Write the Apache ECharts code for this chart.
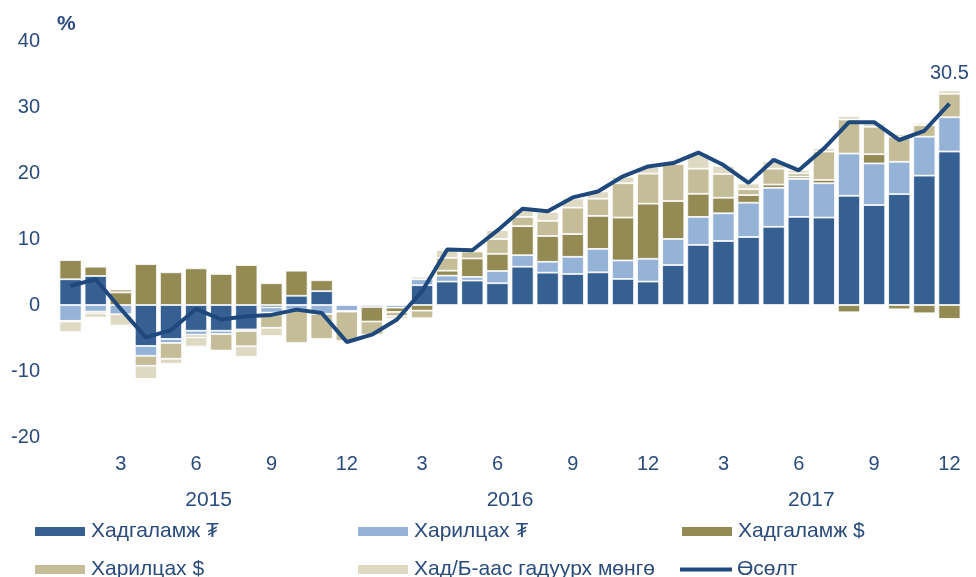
<!DOCTYPE html>
<html>
<head>
<meta charset="utf-8">
<script src="https://cdn.jsdelivr.net/npm/echarts@6/dist/echarts.min.js"></script>
<style>
html,body{margin:0;padding:0;background:#fff}
#main{width:976px;height:577px}
</style>
</head>
<body>
<div id="main"></div>
<script>
// months 2015.01 - 2017.12
const months = []
for (let y = 0; y < 3; y++) for (let m = 1; m <= 12; m++) months.push(String(m))
const years = ['2015', '2016', '2017']

const names = ['Хадгаламж ₮', 'Харилцах ₮', 'Хадгаламж $', 'Харилцах $', 'Хад/Б-аас гадуурх мөнгө', 'Өсөлт']

const hadTug = [3.9, 4.4, 0, -6.2, -5.15, -3.9, -3.9, -3.7, -0.35, 1.4, 2.1, 0.15,
  -0.3, 0, 3.0, 3.55, 3.7, 3.3, 5.8, 4.9, 4.7, 4.95, 3.95, 3.55,
  6.05, 9.1, 9.7, 10.3, 11.85, 13.35, 13.25, 16.55, 15.15, 16.8, 19.6, 23.25]
const harTug = [-2.4, -1.0, -1.4, -1.5, -0.6, -0.6, -0.5, -0.25, -0.8, -0.7, -1.35, -0.9,
  0.1, -0.4, 0.9, 0.9, 0.55, 1.85, 1.75, 1.65, 2.6, 3.55, 2.8, 3.45,
  3.95, 4.25, 4.2, 5.2, 5.9, 5.75, 5.2, 6.4, 6.3, 4.9, 5.9, 5.2]
const hadUsd = [2.9, 1.4, 1.9, 6.2, 4.95, 5.55, 4.7, 6.05, 3.3, 3.8, 1.65, -0.1,
  -2.2, -0.65, -0.85, 0.75, 2.8, 2.6, 4.4, 3.9, 3.45, 5.0, 6.5, 8.35,
  5.75, 3.5, 2.35, 1.15, 0.5, 0.35, 0.5, -1.1, 1.4, -0.65, -1.25, -2.1]
const harUsd = [-0.1, -0.25, 0.5, -1.5, -2.4, -0.4, -2.5, -2.3, -2.3, -5.05, -3.8, -4.45,
  -2.0, -0.65, -1.15, 1.95, 1.05, 2.25, 1.4, 2.3, 4.0, 2.6, 5.2, 4.55,
  5.6, 3.8, 3.6, 0.9, 2.4, 0.5, 4.3, 5.15, 4.15, 3.8, 1.75, 3.55]
const gadnaMongo = [-1.6, -0.65, -1.7, -2.0, -0.75, -1.4, 0, -1.6, -1.25, -0.15, -0.1, -0.25,
  -0.1, -0.4, 0.4, 1.15, 0.15, 1.35, 1.15, 1.35, 1.4, 1.1, 1.0, 1.0,
  0.2, 2.35, 1.2, 0.85, 1.1, 0.5, 0.5, 0.5, 0.5, 0.4, 0.35, 0.5]
const osolt = [2.9, 3.9, -0.6, -4.9, -3.8, -0.6, -2.2, -1.7, -1.5, -0.7, -1.2, -5.6,
  -4.5, -2.2, 2.1, 8.4, 8.3, 11.3, 14.6, 14.2, 16.3, 17.2, 19.5, 21.0,
  21.5, 23.1, 21.2, 18.5, 22.0, 20.4, 23.7, 27.7, 27.7, 25.0, 26.4, 30.5]

const colors = ['#366092', '#95b3d7', '#948a54', '#c4bd97', '#ddd9c3', '#1f497d']
const txt = '#2a4b7c'
const font = "'Liberation Sans', Arial, sans-serif"

const myChart = echarts.init(document.querySelector('#main'))

const barData = [hadTug, harTug, hadUsd, harUsd, gadnaMongo]
const barSeries = barData.map((arr, i) => ({
  name: names[i],
  type: 'bar',
  stack: 'all',
  barCategoryGap: '12%',
  itemStyle: { color: colors[i], borderColor: '#fff', borderWidth: 0.8 },
  data: arr
}))

const legendPos = [[33, 521], [356, 521], [680, 521], [33, 559], [356, 559], [680, 559]]

const option = {
  animation: false,
  textStyle: { fontFamily: font },
  title: {
    text: '%',
    left: 52,
    top: 9,
    textStyle: { color: txt, fontSize: 21, fontWeight: 'bold', fontFamily: font }
  },
  grid: { left: 58, right: 14, top: 41, bottom: 140, containLabel: false },
  legend: names.map((n, i) => ({
    data: [n],
    left: legendPos[i][0],
    top: legendPos[i][1],
    padding: 0,
    itemWidth: 52,
    itemHeight: i === 5 ? 4 : 11,
    icon: 'rect',
    itemGap: 0,
    textStyle: { color: txt, fontSize: 21, fontFamily: font }
  })),
  xAxis: [
    {
      type: 'category',
      data: months,
      axisLine: { show: false, onZero: false },
      axisTick: { show: false },
      axisLabel: {
        color: txt,
        fontSize: 20,
        margin: 17,
        interval: (idx) => (idx + 1) % 3 === 0
      }
    },
    {
      type: 'category',
      data: years,
      position: 'bottom',
      offset: 53,
      axisLine: { show: false },
      axisTick: { show: false },
      axisLabel: { color: txt, fontSize: 21, margin: 0 }
    }
  ],
  yAxis: {
    type: 'value',
    min: -20,
    max: 40,
    interval: 10,
    axisLine: { show: false },
    axisTick: { show: false },
    splitLine: { show: false },
    axisLabel: { color: txt, fontSize: 20, margin: 18 }
  },
  series: [
    ...barSeries,
    {
      name: names[5],
      type: 'line',
      symbol: 'circle',
      symbolSize: 0,
      showSymbol: true,
      lineStyle: { color: colors[5], width: 4 },
      itemStyle: { color: colors[5] },
      z: 5,
      data: osolt.map((v, i) => i === osolt.length - 1
        ? { value: v, label: { show: true, position: 'top', distance: 20, color: txt, fontSize: 20, formatter: '{c}' } }
        : v)
    }
  ]
}

myChart.setOption(option)
</script>
</body>
</html>
